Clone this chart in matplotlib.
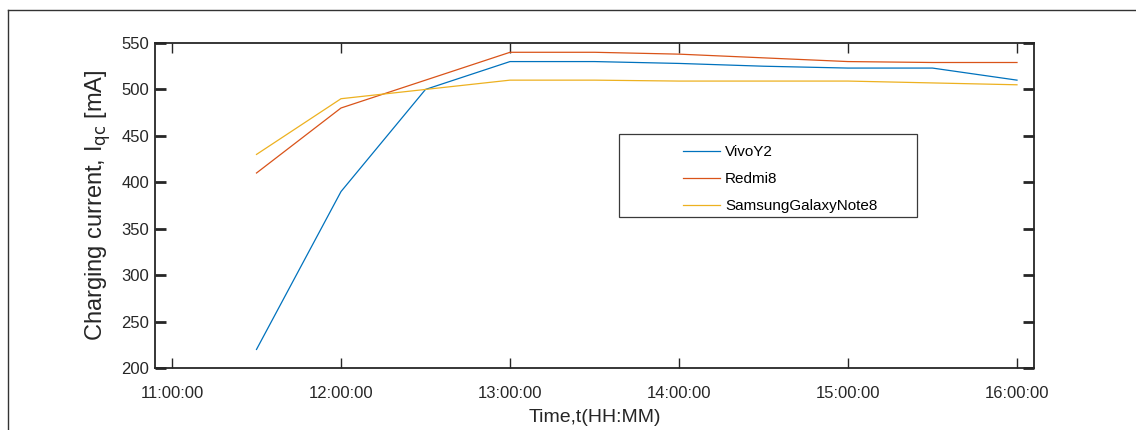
import matplotlib
matplotlib.use("Agg")
import matplotlib.pyplot as plt
from matplotlib.lines import Line2D
from matplotlib.patches import Rectangle

plt.rcParams['font.family'] = ['Liberation Sans', 'DejaVu Sans']

times = ["11:30", "12:00", "12:30", "13:00", "13:30", "14:00", "14:30", "15:00", "15:30", "16:00"]
vivo_y2 = [220, 390, 500, 530, 530, 528, 525, 523, 523, 510]
redmi8 = [410, 480, 510, 540, 540, 538, 534, 530, 529, 529]
samsung_note8 = [430, 490, 500, 510, 510, 509, 509, 509, 507, 505]
series_names = ["VivoY2", "Redmi8", "SamsungGalaxyNote8"]
xtick_labels = ["11:00:00", "12:00:00", "13:00:00", "14:00:00", "15:00:00", "16:00:00"]
yticks = [200, 250, 300, 350, 400, 450, 500, 550]


def to_hours(s):
    h, m = s.split(":")[:2]
    return int(h) + int(m) / 60.0


x = [to_hours(t) for t in times]
xticks = [to_hours(t) for t in xtick_labels]

W, H = 1136, 430
fig = plt.figure(figsize=(W / 100, H / 100), dpi=100)
ax = fig.add_axes([155 / W, 1 - 368 / H, (1034 - 155) / W, (368 - 43) / H])

colors = ["#0072BD", "#D95319", "#EDB120"]
for ys, name, c in zip([vivo_y2, redmi8, samsung_note8], series_names, colors):
    ax.plot(x, ys, color=c, lw=0.9, label=name)

ax.set_xlim(11 - 17 / 169, 16 + 17 / 169)
ax.set_ylim(200, 550)
ax.set_xticks(xticks)
ax.set_xticklabels(xtick_labels)
ax.set_yticks(yticks)

tc = "#262626"
for s in ax.spines.values():
    s.set_linewidth(1.3)
    s.set_color(tc)
ax.tick_params(direction='in', top=True, right=True, length=7, width=1.0,
               colors=tc, labelsize=12, pad=13)
ax.tick_params(axis='y', pad=4, length=8, width=2.0)
for lbl in ax.get_xticklabels() + ax.get_yticklabels():
    lbl.set_color(tc)

ax.set_xlabel("Time,t(HH:MM)", fontsize=14, color=tc, labelpad=6)
ax.set_ylabel(r"Charging current, I$_{\mathrm{qc}}$ [mA]", fontsize=17, color=tc, labelpad=6)

# legend frame drawn as a box, entries indented like the reference
ax.add_patch(Rectangle((0.528, 0.465), 0.339, 0.255, transform=ax.transAxes,
                       facecolor="white", edgecolor="#3a3a3a", lw=0.9, zorder=4))
leg = ax.legend(loc='upper left', bbox_to_anchor=((683 - 155) / 879, (368 - 145) / 325),
                frameon=False, fontsize=11, handlelength=2.45, borderpad=0,
                labelspacing=0.86, handletextpad=0.3, borderaxespad=0)
leg.set_zorder(5)

# outer figure frame (left and top edges)
fig.add_artist(Line2D([8 / W, 8 / W], [0, 1 - 10 / H], transform=fig.transFigure, color="#333333", lw=1.0))
fig.add_artist(Line2D([8 / W, 1], [1 - 10 / H, 1 - 10 / H], transform=fig.transFigure, color="#333333", lw=1.0))

fig.savefig("out.png", dpi=100)
